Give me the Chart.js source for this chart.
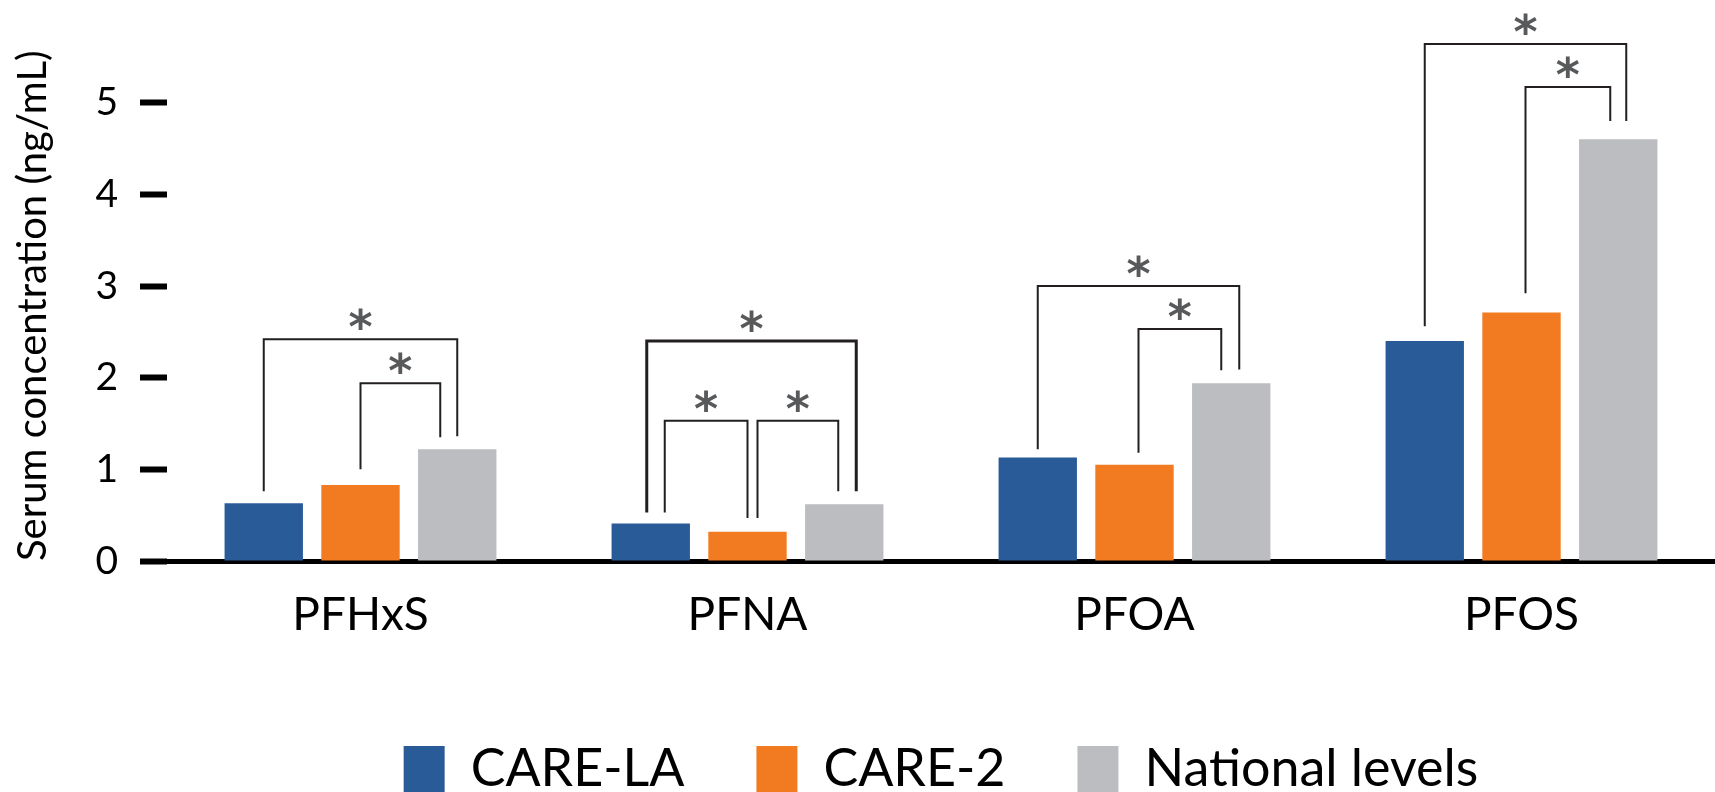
<!DOCTYPE html>
<html>
<head>
<meta charset="utf-8">
<script src="https://cdn.jsdelivr.net/npm/chart.js@4"></script>
<style>
  html, body { margin: 0; padding: 0; background: #fff; overflow: hidden; }
  #wrap { position: relative; width: 1715px; height: 805px; }
</style>
</head>
<body>
<div id="wrap"><canvas id="pfasChart"></canvas></div>
<script>
// chart values
const compounds = ['PFHxS', 'PFNA', 'PFOA', 'PFOS'];
const seriesNames = ['CARE-LA', 'CARE-2', 'National levels'];
const careLA = [0.63, 0.41, 1.13, 2.40];
const care2 = [0.83, 0.32, 1.05, 2.71];
const nationalLevels = [1.22, 0.62, 1.94, 4.60];
const yTicks = [0, 1, 2, 3, 4, 5];

// significance brackets: compound index, left/right series, bracket height, leg ends
const bracketCompound = [0, 0, 1, 1, 1, 2, 2, 3, 3];
const bracketFrom = [0, 1, 0, 0, 1, 0, 1, 0, 1];
const bracketTo = [2, 2, 2, 1, 2, 2, 2, 2, 2];
const bracketTop = [2.42, 1.94, 2.40, 1.53, 1.53, 3.00, 2.53, 5.64, 5.17];
const bracketFromEnd = [0.76, 1.00, 0.53, 0.53, 0.47, 1.22, 1.18, 2.56, 2.92];
const bracketToEnd = [1.36, 1.35, 0.76, 0.47, 0.76, 2.09, 2.08, 4.80, 4.80];
const bracketMark = ['*', '*', '*', '*', '*', '*', '*', '*', '*'];

// drawing style for the brackets (pixel nudges of the legs off the bar centres)
const legShift = [[0, 0], [0, -17], [-4, 12], [14, 0], [10, -6], [0, 8], [4, -10], [0, 8], [4, -8]];
const bracketWidth = [2, 2, 3, 2, 2, 2, 2, 2, 2];

const colors = ['#2A5B99', '#F27B21', '#BCBDC0'];
const fontFamily = 'Lato, "Noto Sans", sans-serif';

const bracketPlugin = {
    id: 'brackets',
    afterDatasetsDraw(chart) {
        const ctx = chart.ctx;
        const y = chart.scales.y;
        ctx.save();
        bracketCompound.forEach((c, i) => {
            const a = chart.getDatasetMeta(bracketFrom[i]).data[c];
            const b = chart.getDatasetMeta(bracketTo[i]).data[c];
            const x1 = a.x + legShift[i][0];
            const x2 = b.x + legShift[i][1];
            const yt = y.getPixelForValue(bracketTop[i]);
            ctx.beginPath();
            ctx.moveTo(x1, y.getPixelForValue(bracketFromEnd[i]));
            ctx.lineTo(x1, yt);
            ctx.lineTo(x2, yt);
            ctx.lineTo(x2, y.getPixelForValue(bracketToEnd[i]));
            ctx.lineWidth = bracketWidth[i];
            ctx.strokeStyle = '#231F20';
            ctx.lineJoin = 'miter';
            ctx.stroke();

            // the asterisk sits ~20px over the bracket
            ctx.font = 'bold 46px "DejaVu Sans", sans-serif';
            ctx.fillStyle = '#58595B';
            ctx.textAlign = 'center';
            ctx.textBaseline = 'alphabetic';
            const m = ctx.measureText(bracketMark[i]);
            const target = yt - 20;
            const by = target + (m.actualBoundingBoxAscent - m.actualBoundingBoxDescent) / 2;
            ctx.fillText(bracketMark[i], (x1 + x2) / 2, by);
        });
        ctx.restore();
    }
};

const ctx = document.getElementById('pfasChart').getContext('2d');
new Chart(ctx, {
    type: 'bar',
    data: {
        labels: compounds,
        datasets: [careLA, care2, nationalLevels].map((vals, i) => ({
            label: seriesNames[i],
            data: vals,
            backgroundColor: colors[i],
            borderWidth: 0,
            categoryPercentage: 0.75,
            barPercentage: 0.81
        }))
    },
    options: {
        responsive: true,
        maintainAspectRatio: false,
        animation: false,
        layout: { padding: 0 },
        plugins: {
            tooltip: { enabled: false },
            legend: {
                position: 'bottom',
                fullSize: false,
                labels: {
                    boxWidth: 41,
                    boxHeight: 46,
                    padding: 72,
                    color: '#000',
                    font: { family: fontFamily, size: 52 }
                }
            }
        },
        scales: {
            x: {
                grid: { display: false, drawTicks: false },
                border: { display: true, width: 5, color: '#000' },
                ticks: {
                    padding: 27,
                    color: '#000',
                    font: { family: fontFamily, size: 46 }
                },
                afterFit(scale) {
                    scale.height = 110;
                    scale.paddingLeft = 0;
                    scale.paddingRight = 0;
                }
            },
            y: {
                min: 0,
                max: 6.12,
                afterBuildTicks(scale) {
                    scale.ticks = yTicks.map(v => ({ value: v }));
                },
                grid: {
                    drawOnChartArea: false,
                    drawTicks: true,
                    tickLength: 27,
                    tickWidth: 6,
                    tickColor: '#000'
                },
                border: { display: false },
                ticks: {
                    padding: 22,
                    color: '#000',
                    font: { family: fontFamily, size: 39 }
                },
                title: {
                    display: true,
                    text: 'Serum concentration (ng/mL)',
                    align: 'start',
                    color: '#000',
                    padding: { top: 9, bottom: 0 },
                    font: { family: fontFamily, size: 40 }
                },
                afterFit(scale) {
                    scale.width = 167;
                    scale.paddingTop = 0;
                    scale.paddingBottom = 0;
                }
            }
        }
    },
    plugins: [bracketPlugin]
});
</script>
</body>
</html>
